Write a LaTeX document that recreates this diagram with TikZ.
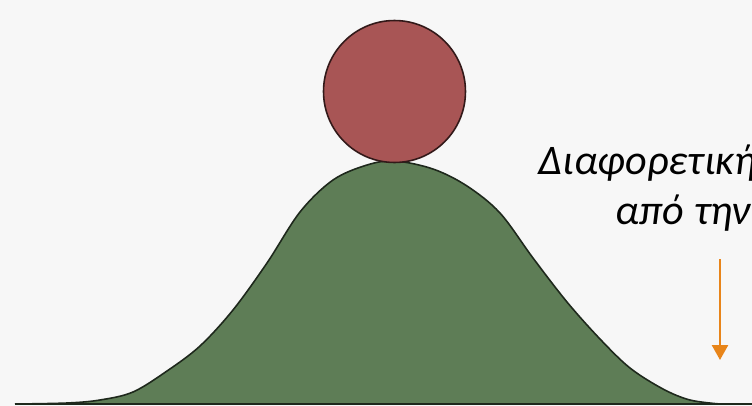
\documentclass[tikz,border=0pt]{standalone}
\usepackage{fontspec}
\newfontfamily\labelfont{Carlito}
\usetikzlibrary{arrows.meta}

\definecolor{bggray}{RGB}{247,247,247}
\definecolor{hillgreen}{RGB}{94,125,86}
\definecolor{hilledge}{RGB}{30,40,28}
\definecolor{ballred}{RGB}{168,85,85}
\definecolor{balledge}{RGB}{50,25,25}
\definecolor{arroworange}{RGB}{232,133,26}

\tikzset{
  hill/.style={fill=hillgreen},
  hillline/.style={draw=hilledge, line width=0.9pt},
  ball/.style={circle, fill=ballred, draw=balledge, line width=0.9pt,
    minimum size=2.84cm, inner sep=0pt},
  greek/.style={anchor=base west, inner sep=0pt,
    font=\labelfont\itshape\fontsize{24}{28}\selectfont},
  hint/.style={draw=arroworange, line width=1.4pt,
    -{Triangle[length=3mm, width=3.2mm]}}
}

\begin{document}
\begin{tikzpicture}[x=0.02cm, y=-0.02cm, line width=0.8pt]
  \useasboundingbox (0,0) rectangle (752,406);
  \clip (0,0) rectangle (752,406);
  \fill[bggray] (0,0) rectangle (752,406);

  % colina (curva de campana)
  \fill[hill] (15,404) plot[smooth, tension=0.55] coordinates {
    (15,404) (67,403) (100,400) (133,392) (167,371) (200,346) (233,310)
    (267,263) (300,212) (333,180) (367,165) (395,161) (433,169) (467,186)
    (500,213) (533,258) (567,302) (600,339) (630,368) (663,389) (690,400)
    (720,404)} -- cycle;
  \draw[hillline] plot[smooth, tension=0.55] coordinates {
    (15,404) (67,403) (100,400) (133,392) (167,371) (200,346) (233,310)
    (267,263) (300,212) (333,180) (367,165) (395,161) (433,169) (467,186)
    (500,213) (533,258) (567,302) (600,339) (630,368) (663,389) (690,400)
    (720,404)};
  \coordinate (baseL) at (15,404);
  \coordinate (baseR) at (752,404);
  \draw[hillline] (baseL) -- (baseR);

  % bola en la cima
  \node[ball] (ball) at (394.5,91.5) {};

  % texto (cortado por el borde)
  \node[greek] (line1) at (538,174) {Διαφορετική};
  \node[greek] (line2) at (615,224) {από την};

  % flecha
  \coordinate (arrtop) at (720,259);
  \coordinate (arrtip) at (720,360);
  \draw[hint] (arrtop) -- (arrtip);
\end{tikzpicture}
\end{document}
